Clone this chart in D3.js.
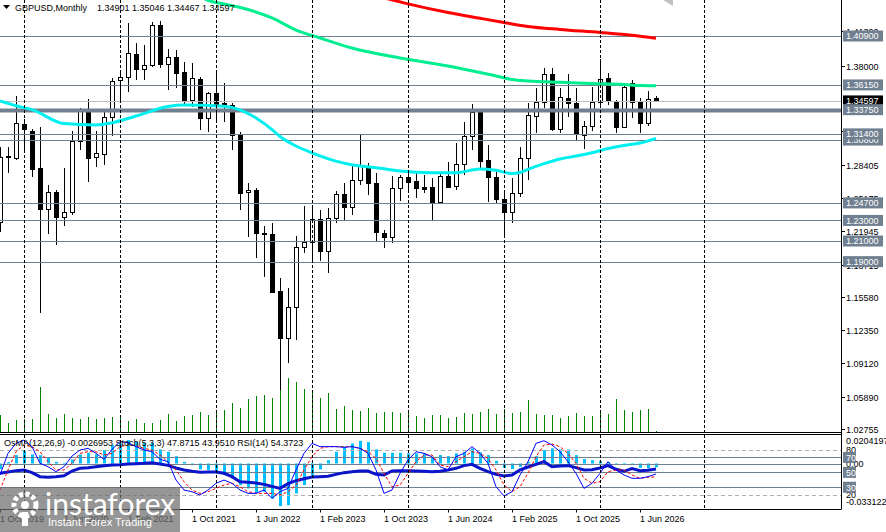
<!DOCTYPE html>
<html>
<head>
<meta charset="utf-8">
<script src="https://cdn.jsdelivr.net/npm/d3@7"></script>
<style>
  body { margin: 0; background: #fff; }
  svg { display: block; font-family: "Liberation Sans", Arial, sans-serif; }
</style>
</head>
<body>
<svg id="chart" width="886" height="532"></svg>
<script>
// Monthly GBPUSD candles, Oct 2019 .. Aug 2026 (one entry per bar)
const opens = [1.2284,1.2915,1.2903,1.3236,1.3171,1.2808,1.2408,1.2578,1.2336,1.2384,
  1.3075,1.3372,1.2915,1.2945,1.3307,1.3660,1.3690,1.3915,1.3767,1.3808,
  1.4197,1.3815,1.3883,1.3743,1.3469,1.3672,1.3291,1.3533,1.3442,1.3420,
  1.3129,1.2573,1.2595,1.2174,1.2168,1.1614,1.1161,1.1462,1.2045,1.2087,
  1.2310,1.2006,1.2320,1.2553,1.2427,1.2692,1.2828,1.2660,1.2180,1.2136,
  1.2611,1.2718,1.2685,1.2620,1.2621,1.2482,1.2731,1.2637,1.2847,1.3119,
  1.3355,1.2886,1.2724,1.2504,1.2384,1.2569,1.2902,1.3317,1.3452,1.3721,
  1.3187,1.3491,1.3443,1.3129,1.3219,1.3446,1.3679,1.3459,1.3210,1.3630,
  1.3446,1.3249,1.34901];
const highs = [1.3012,1.3015,1.3507,1.3285,1.3184,1.3204,1.2643,1.2595,1.2808,1.3170,
  1.3394,1.3476,1.3171,1.3355,1.3679,1.3743,1.4219,1.4019,1.4003,1.4229,
  1.4239,1.3961,1.3954,1.3840,1.3831,1.3689,1.3549,1.3743,1.3631,1.3437,
  1.3161,1.2660,1.2611,1.2245,1.2277,1.1738,1.1641,1.2148,1.2440,1.2450,
  1.2401,1.2417,1.2585,1.2660,1.2838,1.3129,1.2860,1.2757,1.2206,1.2731,
  1.2740,1.2780,1.2757,1.2740,1.2715,1.2773,1.2870,1.3048,1.3258,1.3430,
  1.3378,1.3032,1.2790,1.2595,1.2708,1.3016,1.3443,1.3582,1.3776,1.3776,
  1.3582,1.3721,1.3582,1.3265,1.3598,1.3867,1.3734,1.3469,1.3630,1.3663,
  1.3485,1.3556,1.35046];
const lows = [1.2187,1.2760,1.2885,1.2955,1.2718,1.1404,1.2168,1.2061,1.2246,1.2350,
  1.2980,1.2676,1.2816,1.2838,1.3122,1.3452,1.3549,1.3663,1.3663,1.3792,
  1.3776,1.3566,1.3582,1.3412,1.3400,1.3177,1.3161,1.3258,1.3258,1.2983,
  1.2401,1.2142,1.1932,1.1753,1.1592,1.0350,1.0913,1.1139,1.1986,1.1883,
  1.1908,1.1792,1.2272,1.2303,1.2352,1.2643,1.2546,1.2103,1.2029,1.2083,
  1.2491,1.2597,1.2514,1.2563,1.2297,1.2455,1.2615,1.2595,1.2740,1.2983,
  1.2789,1.2481,1.2466,1.2126,1.2271,1.2530,1.2692,1.3145,1.3388,1.3168,
  1.3145,1.3307,1.3080,1.2993,1.3171,1.3420,1.3420,1.3151,1.3194,1.3291,
  1.3145,1.3216,1.34467];
const closes = [1.2915,1.2925,1.3248,1.3190,1.2802,1.2408,1.2578,1.2336,1.2384,1.3075,
  1.3372,1.2908,1.2950,1.3307,1.3653,1.3690,1.3928,1.3767,1.3806,1.4197,
  1.3818,1.3889,1.3734,1.3462,1.3679,1.3291,1.3534,1.3427,1.3420,1.3129,
  1.2563,1.2595,1.2174,1.2165,1.1608,1.1161,1.1462,1.2045,1.2087,1.2310,
  1.2006,1.2320,1.2553,1.2427,1.2692,1.2828,1.2660,1.2190,1.2136,1.2611,
  1.2718,1.2675,1.2611,1.2605,1.2482,1.2731,1.2627,1.2847,1.3119,1.3355,
  1.2879,1.2724,1.2504,1.2384,1.2569,1.2902,1.3323,1.3446,1.3721,1.3187,
  1.3495,1.3436,1.3145,1.3219,1.3446,1.3669,1.3469,1.3210,1.3592,1.3446,
  1.3249,1.3475,1.34597];
const volumes = [17,9,12,13,13,45,18,14,18,14, 13,15,13,14,15,14,11,13,9,9,
  12,18,11,16,17,20,17,19,22,29, 24,33,36,37,34,42,54,50,43,39,
  34,39,23,26,22,21,24,19,20,20, 19,21,16,14,17,17,14,15,19,18,
  20,23,18,23,19,20,32,18,17,17, 14,16,19,16,16,20,18,33,22,20,
  22,23,1];

// Moving averages, read at a few bars each
const maFastBars = [0,2,4,8,12,14,17,21,23,28,30,32,34,35,37,39,42,44,47,50,54,57,60,62,64,65,66,68,70,72,74,76,78,80,82];
const maFastVals = [1.3459,1.3413,1.3376,1.3240,1.3226,1.3247,1.3313,1.3406,1.3420,1.3407,1.3373,1.3294,1.3182,1.3114,1.3022,1.2956,1.2876,1.2840,1.2812,1.2779,1.2763,1.2763,1.2799,1.2786,1.2755,1.2765,1.2796,1.2851,1.2896,1.2925,1.2957,1.2998,1.3027,1.3051,1.3097];
const maMidBars = [25,26,28,31,34,37,40,44,50,56,62,64,66,70,74,78,80,82];
const maMidVals = [1.4474,1.4437,1.4401,1.4347,1.4265,1.4148,1.4071,1.3973,1.3876,1.3799,1.3702,1.3668,1.3653,1.3640,1.3629,1.3619,1.3609,1.3607];
const maSlowBars = [47,48,51,56,60,63,66,70,75,79,82];
const maSlowVals = [1.4476,1.4460,1.4402,1.4318,1.4262,1.4221,1.4182,1.4153,1.4124,1.4097,1.4068];

// Horizontal levels and price scale labels
const levelPrices = [1.308, 1.314, 1.19, 1.21, 1.23, 1.247, 1.3375, 1.3615, 1.409];
const keyLevel = 1.3375;
const lastPrice = 1.34597;
const priceTicks = [1.4139, 1.38, 1.31635, 1.28405, 1.25175, 1.21945, 1.18715, 1.1558, 1.1235, 1.0912, 1.0589, 1.02755];

// Indicator window: OsMA(12,26,9), Stoch(5,3,3), RSI(14)
const osma = [-0.0040,0.0010,0.0060,0.0091,0.0065,0.0060,0.0041,0.0012,0.0005,0.0029,
  0.0065,0.0077,0.0065,0.0096,0.0132,0.0144,0.0168,0.0156,0.0149,0.0149,
  0.0101,0.0084,0.0053,0.0012,-0.0012,-0.0042,-0.0047,-0.0071,-0.0083,-0.0107,
  -0.0155,-0.0179,-0.0211,-0.0203,-0.0251,-0.0306,-0.0299,-0.0215,-0.0155,-0.0083,
  -0.0042,0.0024,0.0084,0.0120,0.0144,0.0163,0.0154,0.0101,0.0077,0.0077,
  0.0077,0.0073,0.0073,0.0073,0.0048,0.0060,0.0053,0.0073,0.0084,0.0109,
  0.0080,0.0060,0.0019,-0.0031,-0.0040,-0.0024,0.0012,0.0053,0.0096,0.0109,
  0.0101,0.0101,0.0060,0.0032,0.0024,0.0017,0.0010,-0.0003,0.0005,-0.0005,
  -0.0031,-0.0035,-0.0027];
const stochMain = [46.4,75.5,88.9,93.4,84.5,62.1,57.6,50.9,57.6,71.9,
  80.0,82.2,75.5,67.5,80.9,91.2,89.8,84.5,80.0,77.7,
  67.5,64.3,39.7,26.3,24.0,19.6,26.3,35.3,39.7,35.3,
  26.3,21.8,21.8,26.3,15.1,24.0,28.5,53.2,75.5,88.9,
  84.5,84.5,84.5,83.6,84.5,82.2,75.5,53.2,21.8,26.3,
  48.7,66.6,77.7,75.5,71.0,57.6,53.2,71.0,75.5,84.5,
  75.5,62.1,30.7,18.3,24.0,46.4,64.3,88.9,92.5,86.7,
  77.7,64.3,48.7,28.5,35.3,48.7,64.3,53.2,46.4,42.0,
  42.0,44.2,47.87];
const stochSignal = [26.3,53.2,77.7,86.7,84.5,77.7,64.3,53.2,53.2,62.1,
  75.5,77.7,77.7,73.3,75.5,84.5,86.7,85.4,82.2,80.0,
  73.3,64.3,53.2,37.5,26.3,21.8,24.0,28.5,33.0,35.3,
  30.7,24.0,21.8,21.8,21.8,19.6,24.0,33.0,53.2,71.0,
  82.2,84.5,84.5,84.5,84.5,82.2,77.7,68.8,48.7,30.7,
  33.0,48.7,64.3,73.3,73.3,59.9,57.6,64.3,71.0,77.7,
  75.5,68.8,53.2,33.0,24.0,30.7,48.7,71.0,86.7,88.0,
  84.5,75.5,62.1,42.0,35.3,37.5,50.9,53.2,53.2,46.4,
  42.0,43.3,43.95];
const rsi = [48.7,50.5,52.3,53.2,49.6,44.2,43.3,44.2,45.5,51.8,
  55.4,56.3,57.6,59.0,59.9,60.3,61.2,61.7,62.1,63.0,
  61.2,59.4,55.8,53.2,51.4,50.0,50.5,50.5,48.7,44.2,
  37.5,36.6,35.7,33.9,31.2,28.5,34.8,38.8,41.5,43.8,
  44.2,44.7,47.3,49.6,50.9,51.8,51.8,47.3,46.4,51.8,
  52.3,52.3,51.8,51.4,50.9,51.4,53.2,55.4,59.0,60.8,
  55.4,50.9,47.3,45.1,46.4,53.2,57.2,60.8,64.3,57.6,
  58.5,59.0,56.3,53.2,53.6,55.8,59.0,54.1,51.4,55.0,
  52.3,52.7,54.37];
const rsiLevels = [70, 50, 30];
const stochLevels = [80, 20];

// Time axis
const timeTickBars = [0,8,16,24,32,40,48,56,64,72,80];
const timeTickLabels = ["1 Oct 2019","1 Jun 2020","1 Feb 2021","1 Oct 2021","1 Jun 2022","1 Feb 2023",
  "1 Oct 2023","1 Jun 2024","1 Feb 2025","1 Oct 2025","1 Jun 2026"];
const separatorBars = [3,15,27,39,51,63,75,88];

const svg = d3.select("#chart");
const axisX = 841;
const mainBottom = 432;
const subTop = 435, subBottom = 509.5;
const levelColor = "#708090";
const fmt5 = d3.format(".5f");

const x = d3.scaleLinear().domain([0, 82]).range([0, 656]);
const y = d3.scaleLinear().domain([1.02755, 1.409]).range([429, 36]);
const yVol = d3.scaleLinear().domain([0, 60]).range([mainBottom, mainBottom - 60]);
const yOsc = d3.scaleLinear().domain([0, 100]).range([509.6, 435.1]);
const yOsma = d3.scaleLinear().domain([-0.033122, 0.0204197]).range([509.6, 435.1]);
const px = i => Math.round(x(i)) + 0.5;

// Clip regions for the two windows
const defs = svg.append("defs");
defs.append("clipPath").attr("id", "mainClip")
  .append("rect").attr("x", 0).attr("y", 0).attr("width", axisX).attr("height", mainBottom);
defs.append("clipPath").attr("id", "subClip")
  .append("rect").attr("x", 0).attr("y", subTop).attr("width", axisX).attr("height", subBottom - subTop);

const main = svg.append("g").attr("clip-path", "url(#mainClip)");
const sub = svg.append("g").attr("clip-path", "url(#subClip)");

// Yearly period separators
separatorBars.forEach(b => {
  [[0, mainBottom], [subTop, subBottom]].forEach(([a, z]) => {
    svg.append("line")
      .attr("x1", px(b)).attr("x2", px(b)).attr("y1", a).attr("y2", z)
      .attr("stroke", "#000").attr("stroke-dasharray", "3,2");
  });
});

// Candles
const bars = d3.range(opens.length);
const candle = main.selectAll("g.candle").data(bars).enter().append("g");
candle.append("line")
  .attr("x1", i => px(i)).attr("x2", i => px(i))
  .attr("y1", i => Math.round(y(highs[i]))).attr("y2", i => Math.round(y(lows[i])))
  .attr("stroke", "#000");
candle.append("rect")
  .attr("x", i => px(i) - 2)
  .attr("y", i => Math.round(y(Math.max(opens[i], closes[i]))) + 0.5)
  .attr("width", 4)
  .attr("height", i => Math.max(1, Math.round(y(Math.min(opens[i], closes[i]))) - Math.round(y(Math.max(opens[i], closes[i])))))
  .attr("fill", i => closes[i] >= opens[i] ? "#fff" : "#000")
  .attr("stroke", "#000");

// Volumes (drawn over the candles)
main.selectAll("line.vol").data(bars).enter().append("line")
  .attr("x1", i => px(i)).attr("x2", i => px(i))
  .attr("y1", yVol(0)).attr("y2", i => yVol(volumes[i]))
  .attr("stroke", "#008000");

// Horizontal levels
main.append("line")
  .attr("x1", 0).attr("x2", axisX).attr("y1", Math.round(y(lastPrice)) + 0.5).attr("y2", Math.round(y(lastPrice)) + 0.5)
  .attr("stroke", "#c0c0c0");
levelPrices.forEach(p => {
  const yy = Math.round(y(p)) + 0.5;
  main.append("line")
    .attr("x1", 0).attr("x2", axisX).attr("y1", yy).attr("y2", yy)
    .attr("stroke", levelColor).attr("stroke-width", p === keyLevel ? 4 : 1);
});

// Moving averages
const maLine = d3.line().x(d => x(d[0])).y(d => y(d[1])).curve(d3.curveMonotoneX);
[[maFastBars, maFastVals, "#00f0f0"], [maMidBars, maMidVals, "#00ee90"], [maSlowBars, maSlowVals, "#ff0000"]]
  .forEach(([b, v, c]) => {
    main.append("path")
      .datum(d3.zip(b, v))
      .attr("d", maLine)
      .attr("fill", "none").attr("stroke", c).attr("stroke-width", 3);
  });

// Indicator window
const osmaZero = yOsma(0);
sub.selectAll("rect.osma").data(bars).enter().append("rect")
  .attr("x", i => px(i) - 1.5)
  .attr("y", i => Math.min(osmaZero, yOsma(osma[i])))
  .attr("width", 3)
  .attr("height", i => Math.max(0.5, Math.abs(yOsma(osma[i]) - osmaZero)))
  .attr("fill", "#00bfff");

stochLevels.forEach(v => {
  sub.append("line").attr("x1", 0).attr("x2", axisX)
    .attr("y1", Math.round(yOsc(v)) + 0.5).attr("y2", Math.round(yOsc(v)) + 0.5)
    .attr("stroke", "#b0b0b0").attr("stroke-dasharray", "4,3");
});
rsiLevels.concat([]).forEach(v => {
  sub.append("line").attr("x1", 0).attr("x2", axisX)
    .attr("y1", Math.round(yOsc(v)) + 0.5).attr("y2", Math.round(yOsc(v)) + 0.5)
    .attr("stroke", levelColor);
});
sub.append("line").attr("x1", 0).attr("x2", axisX)
  .attr("y1", Math.round(osmaZero) + 0.5).attr("y2", Math.round(osmaZero) + 0.5)
  .attr("stroke", levelColor);

const oscLine = arr => d3.line().x((d, i) => x(i)).y(d => yOsc(d))(arr);
sub.append("path").attr("d", oscLine(rsi))
  .attr("fill", "none").attr("stroke", "#0a14c8").attr("stroke-width", 3);
sub.append("path").attr("d", oscLine(stochSignal))
  .attr("fill", "none").attr("stroke", "#ff0000").attr("stroke-dasharray", "3,2");
sub.append("path").attr("d", oscLine(stochMain))
  .attr("fill", "none").attr("stroke", "#0000ff");

// Frames
svg.append("line").attr("x1", 0).attr("x2", axisX).attr("y1", mainBottom + 0.5).attr("y2", mainBottom + 0.5).attr("stroke", "#000");
svg.append("line").attr("x1", 0).attr("x2", axisX).attr("y1", subTop - 0.5).attr("y2", subTop - 0.5).attr("stroke", "#000");
svg.append("line").attr("x1", 0).attr("x2", axisX).attr("y1", subBottom).attr("y2", subBottom).attr("stroke", "#000");
svg.append("line").attr("x1", axisX + 0.5).attr("x2", axisX + 0.5).attr("y1", 0).attr("y2", subBottom).attr("stroke", "#000");

// Price scale
const rightText = (yy, txt, color) => svg.append("text")
  .attr("x", axisX + 5).attr("y", yy + 3.3).attr("font-size", 9).attr("fill", color).text(txt);
priceTicks.forEach(p => {
  const yy = Math.round(y(p)) + 0.5;
  svg.append("line").attr("x1", axisX).attr("x2", axisX + 4).attr("y1", yy).attr("y2", yy).attr("stroke", "#000");
  rightText(yy, fmt5(p), "#000");
});
const tag = (yy, txt, fill, w) => {
  svg.append("rect").attr("x", axisX + 2).attr("y", yy - 5.5).attr("width", w).attr("height", 11).attr("fill", fill);
  rightText(yy, txt, "#fff");
};
tag(y(lastPrice), fmt5(lastPrice), "#000", 40);
levelPrices.forEach(p => tag(y(p), fmt5(p), levelColor, 40));

// Indicator scale
[[yOsma(0.0204197) + 6, "0.0204197"], [yOsc(80), "80"], [osmaZero, "0.00"], [yOsc(20), "20"], [yOsma(-0.033122) - 8, "-0.033122"]]
  .forEach(([yy, t]) => rightText(yy, t, "#000"));
rsiLevels.forEach(v => tag(yOsc(v), String(v), levelColor, 13));

// Time axis
timeTickBars.forEach((b, k) => {
  svg.append("line").attr("x1", px(b)).attr("x2", px(b)).attr("y1", subBottom).attr("y2", subBottom + 3).attr("stroke", "#000");
  svg.append("text").attr("x", x(b)).attr("y", 522).attr("font-size", 9).text(timeTickLabels[k]);
});

// Titles
svg.append("path").attr("d", "M3,5 L10,5 L6.5,9 Z").attr("fill", "#000");
svg.append("text").attr("x", 15).attr("y", 11).attr("font-size", 9).text("GBPUSD,Monthly");
svg.append("text").attr("x", 97).attr("y", 11).attr("font-size", 9)
  .text([opens[82], highs[82], lows[82], closes[82]].map(fmt5).join(" "));
svg.append("text").attr("x", 4).attr("y", 446).attr("font-size", 9)
  .text("OsMA(12,26,9) -0.0026953 Stoch(5,3,3) 47.8715 43.9510 RSI(14) 54.3723");
svg.append("path").attr("d", "M663,0 L673,0 L673,6 Z").attr("fill", "#c0c0c0");

// Watermark
const logo = svg.append("g");
logo.append("rect").attr("x", 0).attr("y", 487).attr("width", 180).attr("height", 45)
  .attr("fill", "#6e6e6e").attr("opacity", 0.72);
logo.append("circle").attr("cx", 25).attr("cy", 505).attr("r", 11)
  .attr("fill", "none").attr("stroke", "#fff").attr("stroke-width", 5).attr("stroke-dasharray", "4,2.5");
logo.append("circle").attr("cx", 25).attr("cy", 505).attr("r", 4).attr("fill", "#fff");
logo.append("rect").attr("x", 22).attr("y", 512).attr("width", 6).attr("height", 14).attr("fill", "#fff");
logo.append("text").attr("x", 45).attr("y", 515).attr("font-size", 30).attr("fill", "#fff")
  .attr("font-family", "Lato, 'Liberation Sans', sans-serif").text("instaforex");
logo.append("text").attr("x", 48).attr("y", 526).attr("font-size", 11).attr("fill", "#fff")
  .text("Instant Forex Trading");
</script>
</body>
</html>
